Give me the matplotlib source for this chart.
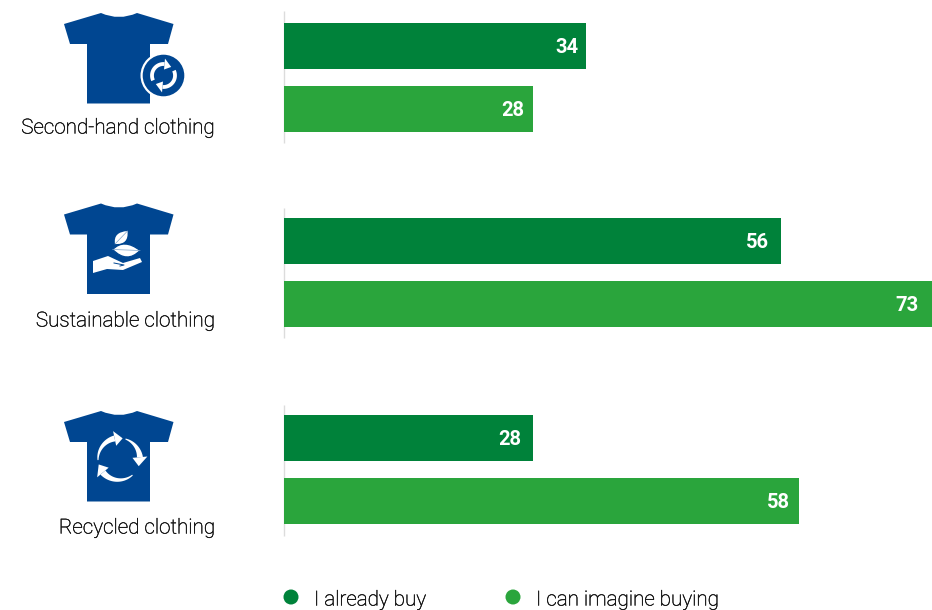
import numpy as np
import matplotlib
matplotlib.use("Agg")
import matplotlib.pyplot as plt
import matplotlib.patheffects as pe
from matplotlib.patches import Polygon, Circle, PathPatch
from matplotlib.path import Path

categories = ["Second-hand clothing", "Sustainable clothing", "Recycled clothing"]
already_buy = [34, 56, 28]
can_imagine = [28, 73, 58]
series_names = ["I already buy", "I can imagine buying"]

DARK, LIGHT, BLUE, TEXT = "#00823A", "#2AA53C", "#004691", "#111111"
W, H = 932, 610
plt.rcParams["font.family"] = ["Roboto", "DejaVu Sans"]
STROKE = [pe.withStroke(linewidth=0.3, foreground=TEXT)]

fig = plt.figure(figsize=(W / 100, H / 100), dpi=100)
bg = fig.add_axes([0, 0, 1, 1])
bg.set_xlim(0, W); bg.set_ylim(H, 0); bg.axis("off")

# bar axes: x from 284 px to the right edge, y in pixels
ax = fig.add_axes([284 / W, 0, (W - 284) / W, 1], zorder=2)
ax.set_xlim(0, 73); ax.set_ylim(H, 0); ax.axis("off"); ax.patch.set_alpha(0)

y_dark = [46, 241, 438]
y_light = [109, 304, 501]
off_dark = [8, 13, 12]
off_light = [9, 14, 10]
unit = (W - 284) / 73
ax.barh(y_dark, already_buy, height=46, color=DARK)
ax.barh(y_light, can_imagine, height=46, color=LIGHT)
for ys, vals, offs in ((y_dark, already_buy, off_dark), (y_light, can_imagine, off_light)):
    for y, v, o in zip(ys, vals, offs):
        ax.text(v - (o - 0.7) / unit, y + 1.2, str(v), color="white", ha="right", va="center",
                fontsize=14.5, fontweight="bold")

for top, bot in ((11, 143), (208, 338), (405, 536)):
    bg.plot([284, 284], [top, bot], color="#dcdcdc", lw=1, solid_capstyle="butt")


def shirt(dy):
    verts = [(64, 24), (101, 13), (119, 21), (137, 13), (173.5, 24), (168, 44), (150, 44),
             (150, 103.5), (87, 103.5), (87, 44), (70, 44), (64, 24), (64, 24)]
    codes = [Path.MOVETO, Path.LINETO, Path.CURVE3, Path.CURVE3, Path.LINETO, Path.LINETO,
             Path.LINETO, Path.LINETO, Path.LINETO, Path.LINETO, Path.LINETO, Path.LINETO,
             Path.CLOSEPOLY]
    verts = [(x, y + dy) for x, y in verts]
    bg.add_patch(PathPatch(Path(verts, codes), fc=BLUE, ec="none"))


def arc_arrow(cx, cy, r, a0, a1, w0, w1, head_w, tip_deg, z=3):
    t = np.radians(np.linspace(a0, a1, 40))
    w = np.linspace(w0, w1, 40)
    outer = np.c_[cx + (r + w / 2) * np.cos(t), cy - (r + w / 2) * np.sin(t)]
    inner = np.c_[cx + (r - w / 2) * np.cos(t), cy - (r - w / 2) * np.sin(t)]
    bg.add_patch(Polygon(np.r_[outer, inner[::-1]], fc="white", ec="none", zorder=z))
    e, tip = np.radians(a1), np.radians(tip_deg)
    bg.add_patch(Polygon([(cx + (r + head_w) * np.cos(e), cy - (r + head_w) * np.sin(e)),
                          (cx + (r - head_w) * np.cos(e), cy - (r - head_w) * np.sin(e)),
                          (cx + r * np.cos(tip), cy - r * np.sin(tip))],
                         fc="white", ec="none", zorder=z))


def leaf(p0, p1, c0, c1, ec="none", z=3):
    verts = [p0, c0, p1, c1, p0, p0]
    codes = [Path.MOVETO, Path.CURVE3, Path.CURVE3, Path.CURVE3, Path.CURVE3, Path.CLOSEPOLY]
    bg.add_patch(PathPatch(Path(verts, codes), fc="white", ec=ec, lw=0.9, zorder=z))
    bg.plot([p0[0], p1[0]], [p0[1], p1[1]], color="#7fa3c8", lw=0.5, zorder=z + 0.1)


# icon 1: shirt with swap badge
shirt(0)
bg.add_patch(Circle((163.5, 75.5), 23, fc="white", ec="none", zorder=2.5))
bg.add_patch(Circle((163.5, 75.5), 20.8, fc=BLUE, ec="none", zorder=2.6))
arc_arrow(163.5, 75.5, 11.5, 205, 85, 3.8, 3.8, 5.5, 48)
arc_arrow(163.5, 75.5, 11.5, 25, -95, 3.8, 3.8, 5.5, -132)

# icon 2: shirt with hand and leaves
shirt(190.5)
leaf((127.5, 231), (115, 244), (129, 245), (113, 232))
leaf((112.7, 249.5), (140, 250.5), (124, 238), (127, 264), ec=BLUE, z=3.2)
bg.add_patch(Polygon([(93, 261), (108, 256), (123, 263), (140, 258), (142, 262), (123, 270),
                      (107, 269), (93, 273)], fc="white", ec="none", zorder=3))
bg.plot([114, 124, 120], [263, 265, 266], color=BLUE, lw=0.7, zorder=4)

# icon 3: shirt with recycling arrows
shirt(398)
arc_arrow(119, 459, 21, 183, 102, 1, 6, 7.5, 80)
arc_arrow(119, 459, 21, 72, 5, 1, 6, 7.5, -20)
arc_arrow(119, 459, 21, -50, -140, 1, 6.5, 7.5, -165)

for label, y in zip(categories, (128, 321, 528)):
    bg.text(215.5, y, label, ha="right", va="center", fontsize=14.85, color=TEXT,
            fontweight="light", path_effects=STROKE)

for name, color, xc in zip(series_names, (DARK, LIGHT), (291, 513)):
    bg.add_patch(Circle((xc, 597), 7.5, fc=color, ec="none"))
    bg.text(xc + 23, 600, name, ha="left", va="center", fontsize=14.85, color=TEXT,
            fontweight="light", path_effects=STROKE)

fig.savefig("out.png", dpi=100)
